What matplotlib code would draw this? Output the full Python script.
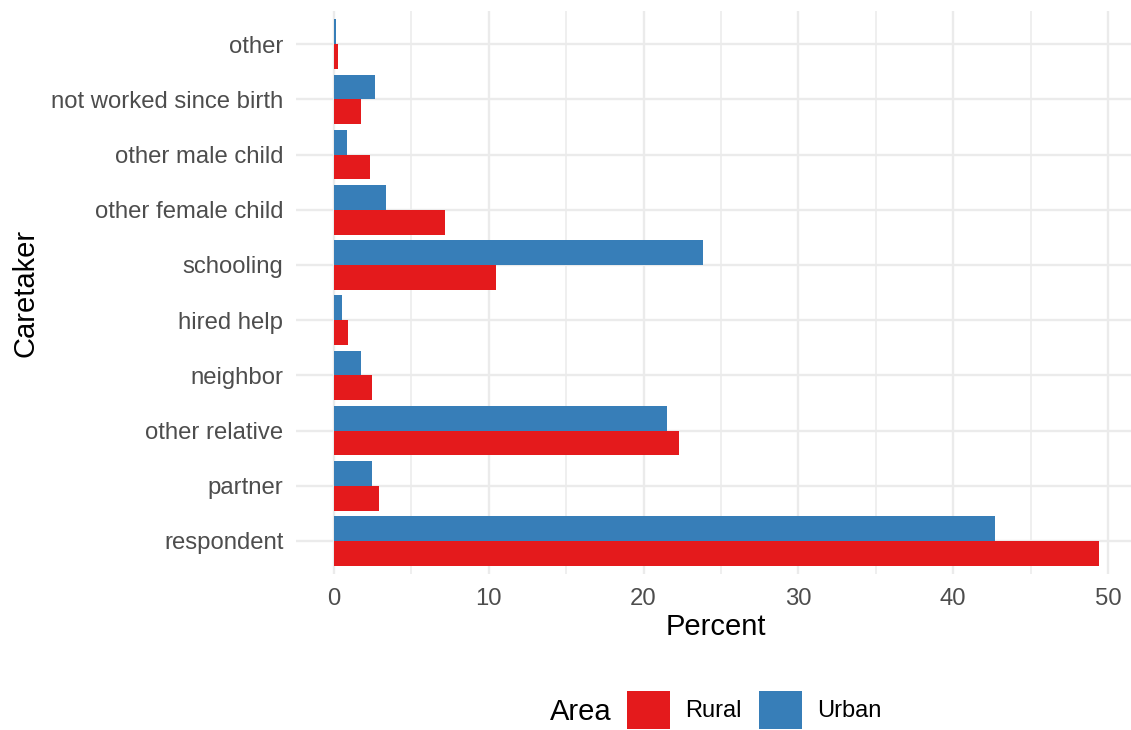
import matplotlib as mpl
import matplotlib.pyplot as plt
from matplotlib.patches import Patch
import numpy as np

mpl.rcParams["font.family"] = ["Liberation Sans", "DejaVu Sans"]

# Data (percent)
caretakers = [
    "respondent",
    "partner",
    "other relative",
    "neighbor",
    "hired help",
    "schooling",
    "other female child",
    "other male child",
    "not worked since birth",
    "other",
]
rural = [49.4, 2.9, 22.3, 2.45, 0.9, 10.5, 7.2, 2.3, 1.75, 0.26]
urban = [42.7, 2.45, 21.5, 1.75, 0.52, 23.85, 3.35, 0.85, 2.65, 0.13]
areas = ["Rural", "Urban"]
area_colors = {"Rural": "#E41A1C", "Urban": "#377EB8"}

fig = plt.figure(figsize=(11.31, 7.30), dpi=100)
ax = fig.add_axes([0.2615, 0.2137, 0.7423, 0.771])

y = np.arange(len(caretakers))
bar_h = 0.45

# Rural below, Urban above within each category
ax.barh(y - bar_h / 2, rural, height=bar_h, color=area_colors["Rural"], zorder=3)
ax.barh(y + bar_h / 2, urban, height=bar_h, color=area_colors["Urban"], zorder=3)

ax.set_xlim(-2.465, 51.765)
ax.set_ylim(-0.6, len(caretakers) - 0.4)

ax.set_yticks(y)
ax.set_yticklabels(caretakers)
ax.set_xticks(np.arange(0, 51, 10))
ax.set_xticks(np.arange(5, 51, 10), minor=True)

# theme_minimal look
for side in ax.spines.values():
    side.set_visible(False)
ax.tick_params(axis="both", which="both", length=0, labelsize=17.2, labelcolor="#4D4D4D")
ax.tick_params(axis="y", pad=9)
ax.tick_params(axis="x", pad=10)
ax.grid(which="major", axis="both", color="#EBEBEB", lw=1.7, zorder=0)
ax.grid(which="minor", axis="x", color="#EBEBEB", lw=1.1, zorder=0)
ax.set_axisbelow(True)

ax.set_xlabel("Percent", fontsize=21, color="black", labelpad=2)
ax.set_ylabel("Caretaker", fontsize=21, color="black", labelpad=8)

# Legend at the bottom, title on the left
handles = [Patch(facecolor=area_colors[a], label=a) for a in areas]
fig.legend(
    handles=handles,
    loc="center left",
    bbox_to_anchor=(0.5356, 0.028),
    ncol=2,
    frameon=False,
    fontsize=17,
    handlelength=1.82,
    handleheight=2.1,
    handletextpad=0.66,
    columnspacing=0.72,
)
fig.text(0.486, 0.025, "Area", fontsize=21, va="center", ha="left")

fig.savefig("out.png", dpi=100)
